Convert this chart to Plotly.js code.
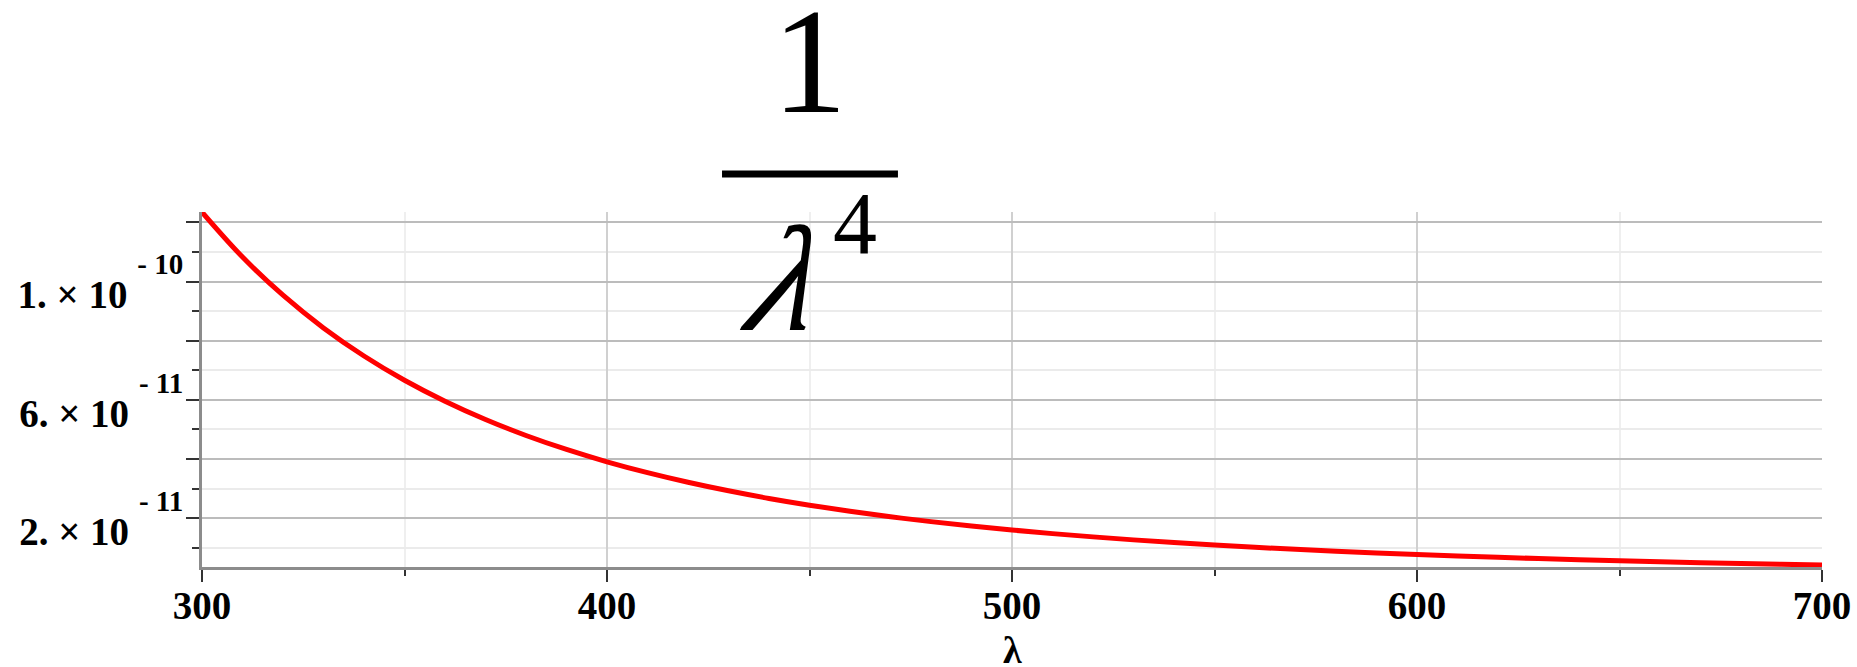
<!DOCTYPE html>
<html>
<head>
<meta charset="utf-8">
<script src="https://cdn.plot.ly/plotly-3.0.1.min.js"></script>
<style>
html,body{margin:0;padding:0;background:#fff;}
#chart{width:1857px;height:667px;}
</style>
</head>
<body>
<div id="chart"></div>
<script>
// wavelength samples (nm)
const lambdaVals = [300,310,320,330,340,350,360,370,380,390,400,410,420,430,440,450,460,470,480,490,500,510,520,530,540,550,560,570,580,590,600,610,620,630,640,650,660,670,680,690,700];
// curve values (units of 1e-12)
const curveE12 = [123.46,108.28,95.37,84.32,74.83,66.64,59.54,53.36,47.96,43.23,39.06,35.39,32.14,29.25,26.68,24.39,22.33,20.49,18.84,17.35,16.00,14.78,13.68,12.67,11.76,10.93,10.17,9.473,8.837,8.253,7.716,7.222,6.768,6.348,5.960,5.602,5.270,4.962,4.677,4.412,4.165];
const curveVals = curveE12.map(v => v * 1e-12);

// axis ticks
const xTickVals = [300,400,500,600,700];
const xTickText = ['300','400','500','600','700'];
const xMinorVals = [350,450,550,650];
const yTickVals = [2e-11,4e-11,6e-11,8e-11,1e-10,1.2e-10];
const yMantissa = ['2.','','6.','','1.',''];
const yExponent = ['-\u00a011','','-\u00a011','','-\u00a010',''];
const yMinorVals = [1e-11,3e-11,5e-11,7e-11,9e-11,1.1e-10];
const xTitle = 'λ';

const yTickText = yMantissa.map((m, i) => m === '' ? ' ' :
  m + '\u00a0×\u00a010\u00a0<span style="font-size:29px;baseline-shift:34px">' + yExponent[i] + '</span>');

const serif = 'Liberation Serif';

const trace = {
  x: lambdaVals,
  y: curveVals,
  type: 'scatter',
  mode: 'lines',
  line: {color: '#ff0000', width: 5, shape: 'spline'},
  hoverinfo: 'skip'
};

const layout = {
  width: 1857,
  height: 667,
  margin: {l: 202, r: 35, t: 212, b: 100, pad: 0},
  paper_bgcolor: '#ffffff',
  plot_bgcolor: '#ffffff',
  showlegend: false,
  xaxis: {
    range: [300, 700],
    tickmode: 'array',
    tickvals: xTickVals,
    ticktext: xTickText,
    ticks: 'outside',
    ticklen: 12,
    tickwidth: 2,
    tickcolor: '#333333',
    showline: true,
    linecolor: '#8c8c8c',
    linewidth: 3,
    showgrid: true,
    gridcolor: '#d0d0d0',
    gridwidth: 2,
    zeroline: false,
    tickfont: {family: serif, size: 39, color: '#000000', weight: 'bold'},
    ticklabelstandoff: -10,
    minor: {tickmode: 'array', tickvals: xMinorVals, ticks: 'outside', ticklen: 6, tickwidth: 2, tickcolor: '#333333', showgrid: true, gridcolor: '#efefef', gridwidth: 2},
    automargin: false
  },
  yaxis: {
    range: [3.5e-12, 1.235e-10],
    tickmode: 'array',
    tickvals: yTickVals,
    ticktext: yTickText,
    ticks: 'outside',
    ticklen: 13,
    tickwidth: 2,
    tickcolor: '#333333',
    showline: true,
    linecolor: '#8c8c8c',
    linewidth: 3,
    showgrid: true,
    gridcolor: '#bcbcbc',
    gridwidth: 2,
    zeroline: false,
    tickfont: {family: serif, size: 39, color: '#000000', weight: 'bold'},
    ticklabelshift: 13,
    ticklabelstandoff: -5,
    minor: {tickmode: 'array', tickvals: yMinorVals, ticks: 'outside', ticklen: 7, tickwidth: 2, tickcolor: '#333333', showgrid: true, gridcolor: '#ebebeb', gridwidth: 2},
    automargin: false
  },
  shapes: [
    {type: 'line', xref: 'paper', yref: 'paper', x0: 0.3210, x1: 0.4296, y0: 1.107, y1: 1.107, line: {color: '#000000', width: 7}}
  ],
  annotations: [
    {text: '1', xref: 'paper', yref: 'paper', x: 0.3753, y: 1.425, xanchor: 'center', yanchor: 'middle', showarrow: false, font: {family: serif, size: 150, color: '#000000'}},
    {text: 'λ', xref: 'paper', yref: 'paper', x: 0.362, y: 0.81, xanchor: 'center', yanchor: 'middle', showarrow: false, font: {family: serif, size: 150, color: '#000000', style: 'italic'}},
    {text: '4', xref: 'paper', yref: 'paper', x: 0.403, y: 0.968, xanchor: 'center', yanchor: 'middle', showarrow: false, font: {family: serif, size: 88, color: '#000000'}},
    {text: xTitle, xref: 'paper', yref: 'paper', x: 0.5, y: -0.17, xanchor: 'center', yanchor: 'top', showarrow: false, font: {family: serif, size: 38, color: '#000000', weight: 'bold'}}
  ]
};

Plotly.newPlot('chart', [trace], layout, {displayModeBar: false, staticPlot: true}).then(function (gd) {
  // slant the big lambda of the formula (italic face unavailable)
  gd.querySelectorAll('.annotation-text').forEach(function (t) {
    if (t.textContent === 'λ' && parseFloat(t.style.fontSize) > 100) {
      t.style.transformBox = 'fill-box';
      t.style.transformOrigin = 'center';
      t.style.transform = 'skewX(-16deg)';
    }
  });
});
</script>
</body>
</html>
